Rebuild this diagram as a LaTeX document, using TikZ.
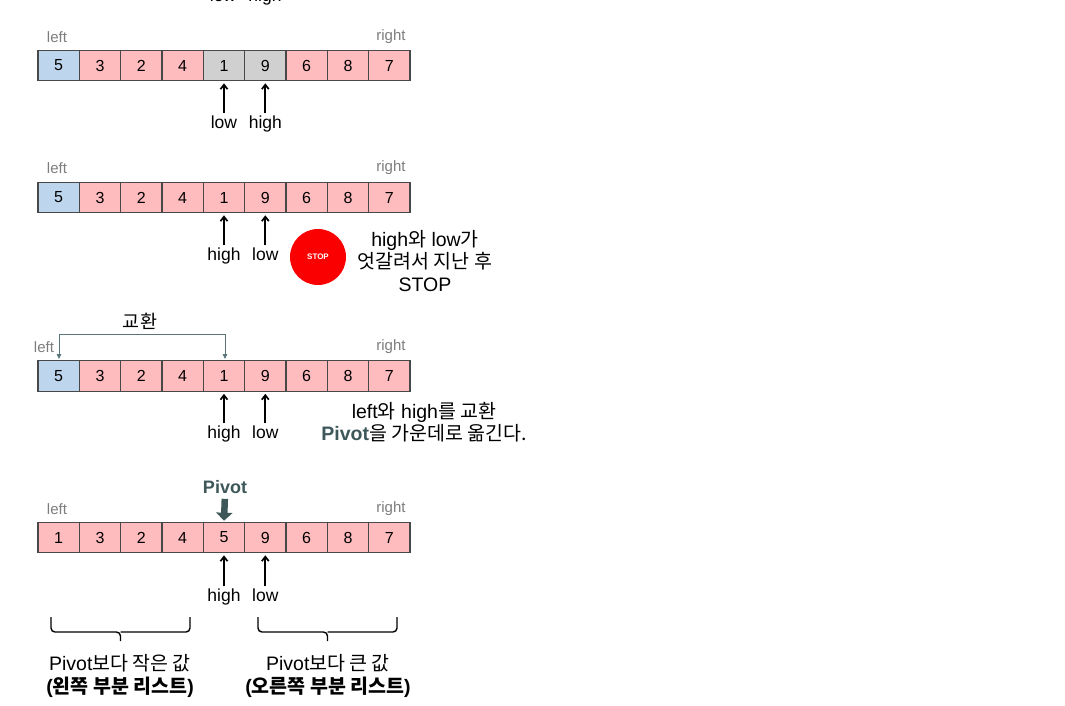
\documentclass[tikz,border=0pt]{standalone}
\usepackage{fontspec}
\setmainfont{Liberation Sans}
\newfontfamily\kr{Noto Sans CJK KR}
\usetikzlibrary{arrows.meta}
\definecolor{pinkc}{RGB}{255,188,190}
\definecolor{bluec}{RGB}{189,214,238}
\definecolor{grayc}{RGB}{208,208,208}
\definecolor{bordc}{RGB}{72,72,72}
\definecolor{labgray}{RGB}{125,125,125}
\definecolor{tealc}{RGB}{62,88,90}
\definecolor{swapc}{RGB}{90,118,120}
\definecolor{stopred}{RGB}{250,0,0}
\newcommand\K[1]{{\kr #1}}
\begin{document}
\begin{tikzpicture}[x=1pt,y=-1pt,
  cell/.style={draw=bordc,line width=1.1pt,minimum width=41.33pt,minimum height=30.5pt,inner sep=0pt,font=\fontsize{16}{16}\selectfont},
  endlab/.style={text=labgray,font=\fontsize{15}{15}\selectfont,inner sep=1pt},
  lab/.style={font=\fontsize{17.5}{17.5}\selectfont,inner sep=1pt,text height=12.5pt,text depth=3.5pt},
  ptr/.style={-{Straight Barb[length=4.5pt,width=7pt]},line width=1.7pt,shorten <=1.5pt,shorten >=2pt},
  note/.style={font=\fontsize{19.5}{22.5}\selectfont,align=center,inner sep=0pt},
  swap/.style={draw=swapc,line width=0.9pt},
  brc/.style={line width=1.4pt,rounded corners=4pt}]
\fill[white] (0,0) rectangle (1065,705);
\useasboundingbox (0,0) rectangle (1065,705);

% partially visible labels at the very top (cut off as in the reference)
\node[lab] (t0l) at (223,-3) {low};
\node[lab] (t0h) at (265,-3) {high};

% ---------- array 1 ----------
\foreach \i/\v/\c in {1/5/bluec,2/3/pinkc,3/2/pinkc,4/4/pinkc,5/1/grayc,6/9/grayc,7/6/pinkc,8/8/pinkc,9/7/pinkc}
  \node[cell,fill=\c] (a\i) at ({38+41.33*(\i-0.5)},65.5) {\v};
\node[endlab] (aL) at (57,37) {left};
\node[endlab] (aR) at (391,37) {right};
\node[lab] (alow) at (a5 |- 0,124) {low};
\node[lab] (ahigh) at (a6 |- 0,124) {high};
\draw[ptr] (alow.north) -- (a5.south);
\draw[ptr] (ahigh.north) -- (a6.south);

% ---------- array 2 ----------
\foreach \i/\v/\c in {1/5/bluec,2/3/pinkc,3/2/pinkc,4/4/pinkc,5/1/pinkc,6/9/pinkc,7/6/pinkc,8/8/pinkc,9/7/pinkc}
  \node[cell,fill=\c] (b\i) at ({38+41.33*(\i-0.5)},197.5) {\v};
\node[endlab] (bL) at (57,168) {left};
\node[endlab] (bR) at (391,168) {right};
\node[lab] (bhigh) at (b5 |- 0,256) {high};
\node[lab] (blow) at (b6 |- 0,256) {low};
\draw[ptr] (bhigh.north) -- (b5.south);
\draw[ptr] (blow.north) -- (b6.south);
\node[circle,fill=stopred,minimum size=56pt,inner sep=0pt,text=white,font=\bfseries\fontsize{8}{8}\selectfont] (stop) at (318,257) {STOP};
\node[note] (stoptext) at (425,261) {high\K{와} low\K{가}\\\K{엇갈려서 지난 후}\\STOP};

% ---------- array 3 ----------
\foreach \i/\v/\c in {1/5/bluec,2/3/pinkc,3/2/pinkc,4/4/pinkc,5/1/pinkc,6/9/pinkc,7/6/pinkc,8/8/pinkc,9/7/pinkc}
  \node[cell,fill=\c] (c\i) at ({38+41.33*(\i-0.5)},376) {\v};
\node[endlab] (cL) at (44,347) {left};
\node[endlab] (cR) at (391,347) {right};
\node[lab] (chigh) at (c5 |- 0,434) {high};
\node[lab] (clow) at (c6 |- 0,434) {low};
\draw[ptr] (chigh.north) -- (c5.south);
\draw[ptr] (clow.north) -- (c6.south);
\coordinate (swL) at (59,359);
\coordinate (swR) at (225,359);
\draw[swap,{Triangle[length=5pt,width=4.5pt]}-{Triangle[length=5pt,width=4.5pt]}] (swL) -- (swL |- 0,334) -- (swR |- 0,334) -- (swR);
\node[font=\fontsize{18.5}{18.5}\selectfont\kr,inner sep=0pt] (swaplab) at (140,321) {교환};
\node[note] (swaptext) at (424,422) {left\K{와} high\K{를 교환}\\{\bfseries\color{tealc}Pivot}\K{을 가운데로 옮긴다.}};

% ---------- array 4 ----------
\foreach \i/\v in {1/1,2/3,3/2,4/4,5/5,6/9,7/6,8/8,9/7}
  \node[cell,fill=pinkc] (d\i) at ({38+41.33*(\i-0.5)},537.5) {\v};
\node[endlab] (dL) at (57,509) {left};
\node[endlab] (dR) at (391,509) {right};
\node[font=\bfseries\fontsize{18}{18}\selectfont,text=tealc,inner sep=0pt] (pivlab) at (225,487) {Pivot};
\draw[tealc,line width=6.5pt,-{Triangle[length=8pt,width=16pt]},shorten <=5pt,shorten >=1pt] (pivlab.south) -- (d5.north);
\node[lab] (dhigh) at (d5 |- 0,597) {high};
\node[lab] (dlow) at (d6 |- 0,597) {low};
\draw[ptr] (dhigh.north) -- (d5.south);
\draw[ptr] (dlow.north) -- (d6.south);

% braces
\draw[brc] (51,617) -- (51,632) -- (120.5,632) -- (120.5,641);
\draw[brc] (190,617) -- (190,632) -- (120.5,632);
\draw[brc] (258,617) -- (258,632) -- (327.5,632) -- (327.5,641);
\draw[brc] (397,617) -- (397,632) -- (327.5,632);

\node[note] (lefttext) at (120,676) {Pivot\K{보다 작은 값}\\\textbf{(\K{왼쪽 부분 리스트})}};
\node[note] (righttext) at (328,676) {Pivot\K{보다 큰 값}\\\textbf{(\K{오른쪽 부분 리스트})}};
\end{tikzpicture}
\end{document}
